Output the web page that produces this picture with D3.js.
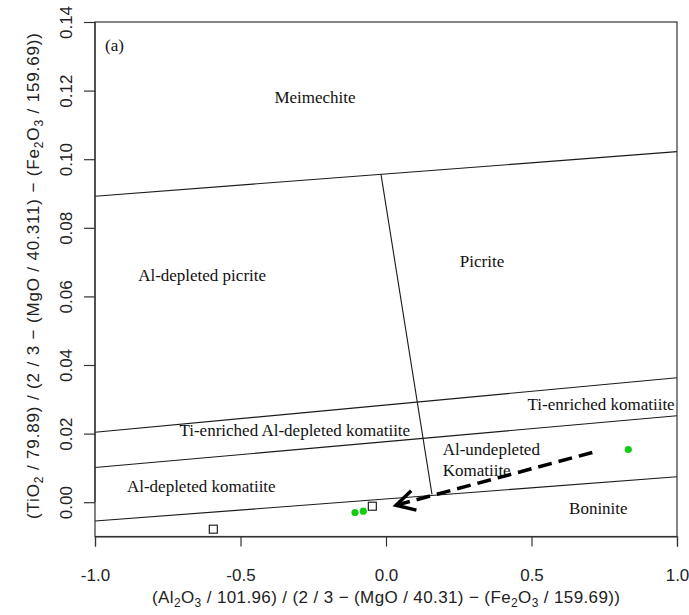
<!DOCTYPE html>
<html>
<head>
<meta charset="utf-8">
<title>TiO2 vs Al2O3 classification</title>
<script src="https://d3js.org/d3.v7.min.js"></script>
<style>
  body { margin: 0; background: #fff; }
  .field { font-family: "Liberation Serif", "Times New Roman", serif; font-size: 17px; fill: #111; }
  .tick-label { font-family: "Liberation Sans", Arial, sans-serif; font-size: 17px; fill: #222; }
  .axis-title { font-family: "Liberation Sans", Arial, sans-serif; font-size: 17px; fill: #222; }
</style>
</head>
<body>
<script>
  let width = 689, height = 615;

  // axis ticks
  let xTicks = [-1, -0.5, 0, 0.5, 1];
  let yTicks = [0, 0.02, 0.04, 0.06, 0.08, 0.10, 0.12, 0.14];

  // field boundaries, each one a list of [x, y] points
  let meimechiteLine = [[-1, 0.0892], [1, 0.1022]];
  let dividerLine = [[-0.0172, 0.0956], [0.158, 0.0023]];
  let tiUpperLine = [[-1, 0.0204], [1, 0.0363]];
  let tiLowerLine = [[-1, 0.0101], [1, 0.0252]];
  let boniniteLine = [[-1, -0.0055], [1, 0.0074]];

  // field names: [text, x, y, anchor]
  let fieldNames = [
    ['Meimechite', -0.244, 0.1163, 'middle'],
    ['Picrite', 0.330, 0.0685, 'middle'],
    ['Al-depleted picrite', -0.632, 0.0644, 'middle'],
    ['Ti-enriched komatiite', 0.992, 0.0270, 'end'],
    ['Ti-enriched Al-depleted komatiite', -0.3134, 0.0192, 'middle'],
    ['Al-undepleted', 0.1948, 0.0137, 'start'],
    ['Komatiite', 0.1948, 0.0076, 'start'],
    ['Boninite', 0.7297, -0.0035, 'middle'],
    ['Al-depleted komatiite', -0.6347, 0.0031, 'middle'],
    ['(a)', -0.9656, 0.1315, 'start']
  ];

  // samples
  let greenX = [0.8326, -0.1065, -0.078];
  let greenY = [0.01537, -0.0030, -0.00263];
  let squareX = [-0.047, -0.5935];
  let squareY = [-0.00117, -0.00787];

  // trend arrow, from -> to
  let arrowFrom = [0.709, 0.0145];
  let arrowTo = [0.0344, -0.00088];

  let x = d3.scaleLinear().domain([-1, 1]).range([95, 677]);
  let y = d3.scaleLinear().domain([-0.01, 0.14]).range([536.5, 22]);

  let svg = d3.select('body').append('svg').attr('width', width).attr('height', height);

  // boundaries
  let line = d3.line().x(d => x(d[0])).y(d => y(d[1]));
  svg.append('g').selectAll('path')
     .data([meimechiteLine, dividerLine, tiUpperLine, tiLowerLine, boniniteLine])
     .enter().append('path')
     .attr('d', line).attr('fill', 'none').attr('stroke', '#1a1a1a').attr('stroke-width', 1.1);

  // box
  svg.append('rect').attr('x', x(-1)).attr('y', y(0.14))
     .attr('width', x(1) - x(-1)).attr('height', y(-0.01) - y(0.14))
     .attr('fill', 'none').attr('stroke', '#333').attr('stroke-width', 1.2);

  // axes (plain hyphen for negatives, like R)
  let fmt1 = d => d3.format('.1f')(d).replace('\u2212', '-');
  let xAxis = d3.axisBottom(x).tickValues(xTicks).tickSize(10).tickFormat(fmt1);
  let gx = svg.append('g').attr('transform', 'translate(0,' + y(-0.01) + ')').call(xAxis);
  let yAxis = d3.axisLeft(y).tickValues(yTicks).tickSize(11).tickFormat(d3.format('.2f'));
  let gy = svg.append('g').attr('transform', 'translate(' + x(-1) + ',0)').call(yAxis);
  [gx, gy].forEach(g => {
    g.select('.domain').attr('stroke', '#333').attr('stroke-width', 1.2);
    g.selectAll('.tick line').attr('stroke', '#333').attr('stroke-width', 1.2);
    g.selectAll('.tick text').attr('class', 'tick-label').attr('fill', null);
  });
  gy.select('.domain').attr('d', 'M0,' + y(0) + 'V' + y(0.14));
  gx.selectAll('.tick text').attr('y', 0).attr('dy', 0).attr('transform', 'translate(0,44)');
  gy.selectAll('.tick text').attr('x', 0).attr('dy', 0).attr('text-anchor', 'middle')
    .attr('transform', 'translate(-23,0) rotate(-90)');

  // axis titles with subscripts
  function richText(sel, parts) {
    let shifted = false;
    parts.forEach(p => {
      let t = sel.append('tspan').text(p[0]);
      if (p[1] == 'sub') {
        t.attr('font-size', 12);
        if (!shifted) { t.attr('dy', 4); shifted = true; }
      } else if (shifted) {
        t.attr('dy', -4); shifted = false;
      }
    });
  }
  let xt = svg.append('text').classed('axis-title', true)
              .attr('x', 386).attr('y', 603).attr('text-anchor', 'middle')
              .attr('textLength', 468).attr('lengthAdjust', 'spacing');
  richText(xt, [['(Al', ''], ['2', 'sub'], ['O', ''], ['3', 'sub'],
                [' / 101.96) / (2 / 3 \u2212 (MgO / 40.31) \u2212 (Fe', ''],
                ['2', 'sub'], ['O', ''], ['3', 'sub'], [' / 159.69))', '']]);
  let yt = svg.append('text').classed('axis-title', true)
              .attr('transform', 'translate(39,276) rotate(-90)').attr('text-anchor', 'middle')
              .attr('textLength', 486).attr('lengthAdjust', 'spacing');
  richText(yt, [['(TiO', ''], ['2', 'sub'],
                [' / 79.89) / (2 / 3 \u2212 (MgO / 40.311) \u2212 (Fe', ''],
                ['2', 'sub'], ['O', ''], ['3', 'sub'], [' / 159.69))', '']]);

  // field names
  svg.append('g').selectAll('text').data(fieldNames).enter().append('text')
     .classed('field', true)
     .attr('x', d => x(d[1])).attr('y', d => y(d[2])).attr('text-anchor', d => d[3])
     .text(d => d[0]);

  // arrow
  let ax0 = x(arrowFrom[0]), ay0 = y(arrowFrom[1]), ax1 = x(arrowTo[0]), ay1 = y(arrowTo[1]);
  svg.append('line').attr('x1', ax0).attr('y1', ay0).attr('x2', ax1).attr('y2', ay1)
     .attr('stroke', '#000').attr('stroke-width', 3.5).attr('stroke-dasharray', '14,7');
  let ang = Math.atan2(ay0 - ay1, ax0 - ax1), len = 21, spread = 0.5;
  let head = [[ax1 + len * Math.cos(ang + spread), ay1 + len * Math.sin(ang + spread)],
              [ax1, ay1],
              [ax1 + len * Math.cos(ang - spread), ay1 + len * Math.sin(ang - spread)]];
  svg.append('path').attr('d', d3.line()(head)).attr('fill', 'none')
     .attr('stroke', '#000').attr('stroke-width', 3.5).attr('stroke-linejoin', 'miter');

  // samples
  svg.append('g').selectAll('circle').data(greenX).enter().append('circle')
     .attr('cx', d => x(d)).attr('cy', (d, i) => y(greenY[i])).attr('r', 3.6)
     .attr('fill', '#14cc14');
  svg.append('g').selectAll('rect').data(squareX).enter().append('rect')
     .attr('x', d => x(d) - 4).attr('y', (d, i) => y(squareY[i]) - 4)
     .attr('width', 8).attr('height', 8)
     .attr('fill', 'none').attr('stroke', '#111').attr('stroke-width', 1.1);
</script>
</body>
</html>
